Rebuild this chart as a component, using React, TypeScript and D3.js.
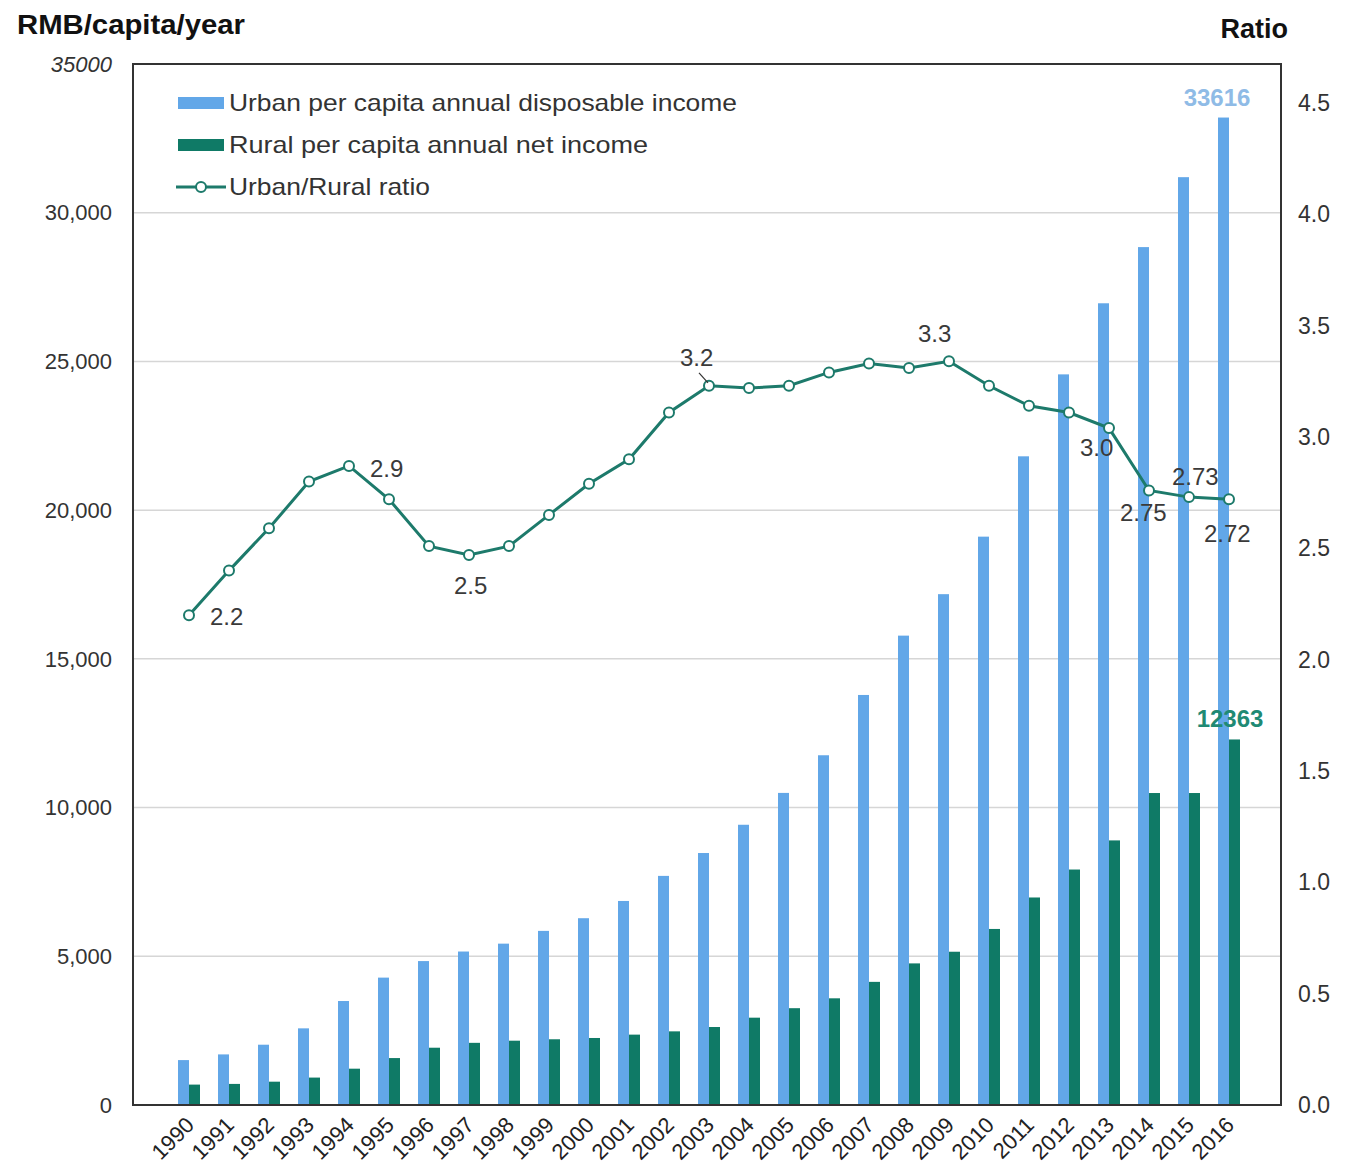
import React, { useEffect } from "react";
import * as d3 from "d3";

const years = d3.range(1990, 2017).map(String);
const urbanIncome = [1510, 1701, 2027, 2577, 3496, 4283, 4839, 5160, 5425, 5854, 6280, 6860, 7703, 8472, 9422, 10493, 11759, 13786, 15781, 17175, 19109, 21810, 24565, 26955, 28844, 31195, 33200];
const ruralIncome = [686, 709, 784, 922, 1221, 1578, 1926, 2090, 2162, 2210, 2253, 2366, 2476, 2622, 2936, 3255, 3587, 4140, 4761, 5153, 5919, 6977, 7917, 8896, 10489, 10489, 12290];
const ratio = [2.2, 2.4, 2.59, 2.8, 2.87, 2.72, 2.51, 2.47, 2.51, 2.65, 2.79, 2.9, 3.11, 3.23, 3.22, 3.23, 3.29, 3.33, 3.31, 3.34, 3.23, 3.14, 3.11, 3.04, 2.76, 2.73, 2.72];
const leftTicks = [0, 5000, 10000, 15000, 20000, 25000, 30000, 35000];
const rightTicks = [0, 0.5, 1, 1.5, 2, 2.5, 3, 3.5, 4, 4.5];
const ratioLabels = [
  { year: "1990", text: "2.2", dx: 21, dy: 10 },
  { year: "1994", text: "2.9", dx: 21, dy: 11 },
  { year: "1997", text: "2.5", dx: -15, dy: 39 },
  { year: "2003", text: "3.2", dx: -29, dy: -20 },
  { year: "2009", text: "3.3", dx: -31, dy: -19 },
  { year: "2013", text: "3.0", dx: -29, dy: 28 },
  { year: "2014", text: "2.75", dx: -29, dy: 31 },
  { year: "2015", text: "2.73", dx: -17, dy: -12 },
  { year: "2016", text: "2.72", dx: -25, dy: 43 },
];
const legendItems = ["Urban per capita annual disposable income", "Rural per capita annual net income", "Urban/Rural ratio"];
const legendWidths = [508, 419, 201];

const W = 1347, H = 1169;
const plot = { left: 133, right: 1281, top: 64, bottom: 1105 };
const URBAN = "#62a7e8";
const RURAL = "#0f7a66";
const LINE = "#1d7a6b";
const FONT = "'Liberation Sans', Arial, sans-serif";

export default function App() {
  useEffect(() => { document.body.style.margin = "0"; }, []);
  const x = d3.scaleBand<string>().domain(years).range([178, 1240]).paddingInner(0.45).paddingOuter(0);
  const yL = d3.scaleLinear().domain([0, 35000]).range([plot.bottom, plot.top]);
  const yR = d3.scaleLinear().domain([0, 4.5]).range([plot.bottom, 103]);
  const bw = x.bandwidth() / 2;
  const cx = (y: string) => (x(y) as number) + x.bandwidth() / 2;
  const line = d3.line<number>().x((_, i) => cx(years[i])).y((d) => yR(d));
  const fmt = d3.format(",");

  return (
    <svg width={W} height={H} style={{ display: "block", background: "#fff", fontFamily: FONT }}>
      {leftTicks.filter((t) => t > 0 && t < 35000).map((t) => (
        <line key={t} x1={plot.left} x2={plot.right} y1={yL(t)} y2={yL(t)} stroke="#d6d6d6" strokeWidth={1.5} />
      ))}
      {years.map((yr, i) => (
        <g key={yr}>
          <rect x={x(yr)} y={yL(urbanIncome[i])} width={bw} height={yL(0) - yL(urbanIncome[i])} fill={URBAN} />
          <rect x={(x(yr) as number) + bw} y={yL(ruralIncome[i])} width={bw} height={yL(0) - yL(ruralIncome[i])} fill={RURAL} />
        </g>
      ))}
      <rect x={plot.left} y={plot.top} width={plot.right - plot.left} height={plot.bottom - plot.top} fill="none" stroke="#333" strokeWidth={2} />
      <path d={line(ratio) || ""} fill="none" stroke={LINE} strokeWidth={3} />
      {ratio.map((r, i) => (
        <circle key={i} cx={cx(years[i])} cy={yR(r)} r={5} fill="#fff" stroke={LINE} strokeWidth={2} />
      ))}
      {ratioLabels.map((l) => (
        <text key={l.year} x={cx(l.year) + l.dx} y={yR(ratio[years.indexOf(l.year)]) + l.dy} fontSize={24} fill="#3a3a3a">{l.text}</text>
      ))}
      <line x1={cx("2003") - 10} y1={yR(ratio[13]) - 13} x2={cx("2003") - 1} y2={yR(ratio[13]) - 3} stroke="#333" strokeWidth={1.2} />
      <text x={cx("2016") - 12} y={yL(urbanIncome[26]) - 12} textAnchor="middle" fontSize={24} fontWeight="bold" fill="#8fbbe6">33616</text>
      <text x={cx("2016") + 1} y={yL(ruralIncome[26]) - 12} textAnchor="middle" fontSize={24} fontWeight="bold" fill="#1f8a74">12363</text>
      {leftTicks.map((t) => (
        <text key={t} x={112} y={yL(t)} dy="0.35em" textAnchor="end" fontSize={22} fill="#333" fontStyle={t === 35000 ? "italic" : "normal"}>
          {t === 35000 ? String(t) : fmt(t)}
        </text>
      ))}
      {rightTicks.map((t) => (
        <text key={t} x={1298} y={yR(t)} dy="0.35em" fontSize={23} fill="#333">{t.toFixed(1)}</text>
      ))}
      {years.map((yr) => (
        <text key={yr} transform={`translate(${cx(yr) + 1},${plot.bottom + 16}) rotate(-45)`} textAnchor="end" dy="0.35em" fontSize={22} fill="#222">{yr}</text>
      ))}
      <text x={17} y={34} fontSize={27} fontWeight="bold" fill="#111" textLength={228} lengthAdjust="spacingAndGlyphs">RMB/capita/year</text>
      <text x={1288} y={38} textAnchor="end" fontSize={27} fontWeight="bold" fill="#111">Ratio</text>
      {legendItems.map((item, i) => {
        const ly = 103 + i * 42;
        return (
          <g key={item}>
            {i === 0 && <rect x={178} y={ly - 6} width={46} height={12} fill={URBAN} />}
            {i === 1 && <rect x={178} y={ly - 6} width={46} height={12} fill={RURAL} />}
            {i === 2 && (
              <g>
                <line x1={176} x2={226} y1={ly} y2={ly} stroke={LINE} strokeWidth={3} />
                <circle cx={201} cy={ly} r={5} fill="#fff" stroke={LINE} strokeWidth={2} />
              </g>
            )}
            <text x={229} y={ly} dy="0.35em" fontSize={24} fill="#333" textLength={legendWidths[i]} lengthAdjust="spacingAndGlyphs">{item}</text>
          </g>
        );
      })}
    </svg>
  );
}
